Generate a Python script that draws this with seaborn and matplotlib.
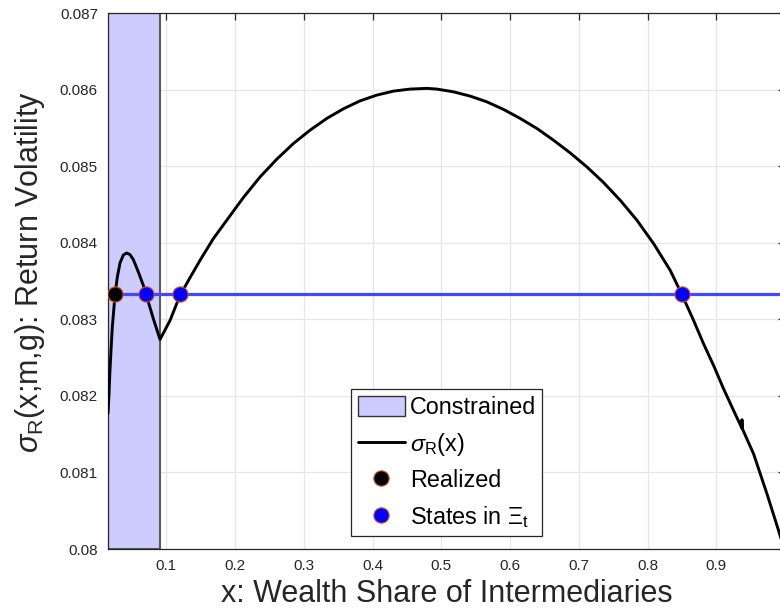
import numpy as np
import pandas as pd
import matplotlib
matplotlib.use("Agg")
import matplotlib.pyplot as plt
import seaborn as sns
from matplotlib.patches import Patch
from matplotlib.lines import Line2D

# ---------------- data ----------------
curve_x = [0.0152, 0.0166, 0.0180, 0.0195, 0.0214, 0.0253, 0.0287, 0.0326, 0.0374,
           0.0424, 0.0472, 0.0520, 0.0593, 0.0665, 0.0738, 0.0811, 0.0908,
           0.1054, 0.1199, 0.1345, 0.1490, 0.1684, 0.1879, 0.2121, 0.2364, 0.2607,
           0.2849, 0.3091, 0.3334, 0.3576, 0.3819, 0.4062, 0.4304, 0.4547, 0.4790,
           0.4935, 0.5177, 0.5420, 0.5663, 0.5905, 0.6148, 0.6391, 0.6632, 0.6875,
           0.7118, 0.7360, 0.7603, 0.7846, 0.8088, 0.8331, 0.8501, 0.8670, 0.8815,
           0.8961, 0.9106, 0.9252, 0.9372, 0.9374, 0.9378, 0.9543, 0.9738, 0.9907,
           1.0000]
curve_y = [0.081774, 0.082028, 0.082333, 0.082595, 0.082900, 0.083314, 0.083554,
           0.083737, 0.083842, 0.083868, 0.083847, 0.083781, 0.083619, 0.083445,
           0.083227, 0.083009, 0.082738,
           0.082987, 0.083314, 0.083546, 0.083772, 0.084056, 0.084296, 0.084593,
           0.084862, 0.085094, 0.085299, 0.085473, 0.085626, 0.085752, 0.085856,
           0.085931, 0.085983, 0.086010, 0.086019, 0.086010, 0.085974, 0.085918,
           0.085843, 0.085744, 0.085626, 0.085495, 0.085342, 0.085176, 0.084993,
           0.084789, 0.084557, 0.084296, 0.083991, 0.083640, 0.083323, 0.082987,
           0.082682, 0.082398, 0.082094, 0.081810, 0.081580, 0.081690, 0.081575,
           0.081243, 0.080720, 0.080240, 0.079960]

realized_sigma = 0.08333
realized_x = [0.0253]
states_x = [0.0705, 0.1204, 0.8502]
constrained_bound = 0.0908

x_limits = (0.0147, 1.0)
y_limits = (0.080, 0.087)
x_ticks = [0.1, 0.2, 0.3, 0.4, 0.5, 0.6, 0.7, 0.8, 0.9]
y_ticks = [0.080, 0.081, 0.082, 0.083, 0.084, 0.085, 0.086, 0.087]
y_tick_labels = ["0.08", "0.081", "0.082", "0.083", "0.084", "0.085", "0.086", "0.087"]

# ---------------- style ----------------
sns.set_theme(style="white")
plt.rcParams["font.family"] = ["Liberation Sans", "DejaVu Sans"]
plt.rcParams["mathtext.fontset"] = "custom"
plt.rcParams["mathtext.rm"] = "Liberation Sans"
plt.rcParams["mathtext.it"] = "Liberation Sans:italic"
plt.rcParams["mathtext.bf"] = "Liberation Sans:bold"

dark = "#262626"
fig = plt.figure(figsize=(7.8, 6.11), dpi=100)
L, R, T, B = 107.7, 785.0, 13.3, 549.0
ax = fig.add_axes([L / 780, (611 - B) / 611, (R - L) / 780, (B - T) / 611])

curve_df = pd.DataFrame({"x": curve_x, "y": curve_y})
real_df = pd.DataFrame({"x": realized_x, "y": [realized_sigma] * len(realized_x)})
states_df = pd.DataFrame({"x": states_x, "y": [realized_sigma] * len(states_x)})

# constrained region
ax.axvspan(x_limits[0], constrained_bound, facecolor="#ccccff", edgecolor="#5a5a5a",
           linewidth=1.5, zorder=1)

sns.lineplot(data=curve_df, x="x", y="y", sort=False, estimator=None, color="black",
             linewidth=2.1, ax=ax, zorder=3)
ax.axhline(realized_sigma, color="#4646ff", linewidth=2.3, zorder=4)
orange = "#d95319"
sns.scatterplot(data=real_df, x="x", y="y", color="black", edgecolor=orange,
                linewidth=0.8, s=120, ax=ax, zorder=5)
sns.scatterplot(data=states_df, x="x", y="y", color="#0000ff", edgecolor=orange,
                linewidth=0.8, s=120, ax=ax, zorder=5)

ax.set_xlim(*x_limits)
ax.set_ylim(*y_limits)
ax.set_xticks(x_ticks)
ax.set_xticklabels([f"{v:g}" for v in x_ticks])
ax.set_yticks(y_ticks)
ax.set_yticklabels(y_tick_labels)
ax.grid(True, color="#e6e6e6", linewidth=0.9, zorder=0)
ax.set_axisbelow(True)
ax.tick_params(direction="in", length=5, width=0.9, color=dark, labelcolor=dark,
               labelsize=11, top=True, right=True, pad=7)
for s in ax.spines.values():
    s.set_color(dark)
    s.set_linewidth(0.9)
    s.set_visible(True)

ax.set_xlabel("x: Wealth Share of Intermediaries", fontsize=22, color=dark)
ax.set_ylabel(r"$\sigma_{\mathrm{R}}$(x;m,g): Return Volatility", fontsize=22, color=dark)
ax.xaxis.set_label_coords(0.5, -0.056)
ax.yaxis.set_label_coords(-0.09, 0.517)

handles = [
    Patch(facecolor="#ccccff", edgecolor="#333333", linewidth=1.0),
    Line2D([], [], color="black", linewidth=2.1),
    Line2D([], [], linestyle="none", marker="o", markersize=11, markerfacecolor="black",
           markeredgecolor=orange, markeredgewidth=0.8),
    Line2D([], [], linestyle="none", marker="o", markersize=11, markerfacecolor="#0000ff",
           markeredgecolor=orange, markeredgewidth=0.8),
]
labels = ["Constrained", r"$\sigma_{\mathrm{R}}$(x)", "Realized", r"States in $\Xi_{\mathrm{t}}$"]
leg = ax.legend(handles, labels, loc="upper left", bbox_to_anchor=(0.3597, 0.2981),
                borderaxespad=0, fontsize=16.8, frameon=True, fancybox=False,
                edgecolor=dark, framealpha=1, borderpad=0.28, handlelength=2.0,
                handletextpad=0.22, labelspacing=0.5, handleheight=0.95)
leg.get_frame().set_linewidth(0.9)
for t in leg.get_texts():
    t.set_color("black")

fig.savefig("out.png", dpi=100)
